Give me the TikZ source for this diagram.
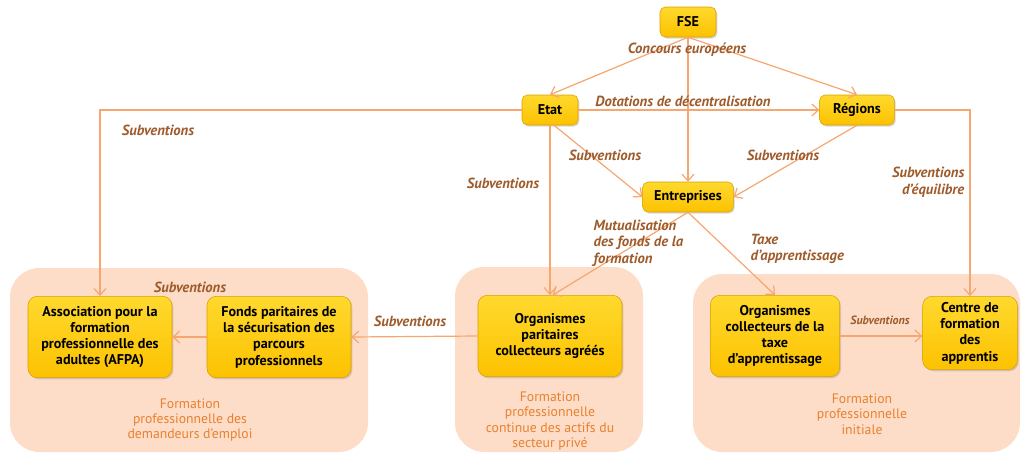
\documentclass[tikz,border=0pt]{standalone}
\usepackage{fontspec}
\setmainfont{PT Sans}
\usepackage{xcolor}
\usetikzlibrary{positioning,arrows.meta,shadows,calc}

\definecolor{goldtop}{HTML}{FFD92E}
\definecolor{goldbot}{HTML}{FCC200}
\definecolor{goldedge}{HTML}{D9A000}
\definecolor{peach}{HTML}{FDDDC8}
\definecolor{flow}{HTML}{F6A66E}
\definecolor{flowlbl}{HTML}{9E5B2B}
\definecolor{grptxt}{HTML}{E8812E}

\begin{document}
\begin{tikzpicture}[x=0.75pt, y=-0.75pt,
  box/.style={draw=goldedge, rounded corners=4pt, top color=goldtop,
              bottom color=goldbot, align=center, inner sep=2pt,
              drop shadow={opacity=0.3, shadow xshift=1pt, shadow yshift=-1.2pt},
              font=\fontsize{10.6}{12.2}\selectfont\bfseries, minimum height=22.5pt},
  bigbox/.style={box, rounded corners=7pt, minimum width=#1, minimum height=61pt},
  group/.style={fill=peach, rounded corners=22pt},
  grplabel/.style={align=center, text=grptxt, font=\fontsize{10.3}{11.5}\selectfont},
  flowlabel/.style={text=flowlbl, font=\fontsize{11}{12.5}\selectfont\bfseries\itshape},
  flowline/.style={->, draw=flow, line width=0.9pt},
  >={Straight Barb[length=5pt, width=9pt]}
]
  \useasboundingbox (0,0) rectangle (1022,457);

  % three sectors of training
  \path[group] (10,268) rectangle (368,452);
  \path[group] (455,267) rectangle (643,452);
  \path[group] (693,274) rectangle (1020,452);

  \node[grplabel] (lblDE) at (190,420)
    {Formation\\professionnelle des\\demandeurs d'emploi};
  \node[grplabel] (lblCont) at (550,421)
    {Formation\\professionnelle\\continue des actifs du\\secteur privé};
  \node[grplabel] (lblInit) at (862,414)
    {Formation\\professionnelle\\initiale};

  % funders
  \node[box, minimum width=42pt] (fse) at (688,22) {FSE};
  \node[box, minimum width=42pt] (etat) at (550,110) {Etat};
  \node[box, minimum width=56pt] (regions) at (857,110) {Régions};
  \node[box, minimum width=68pt] (entr) at (688,197) {Entreprises};

  % organisations
  \node[bigbox=108pt] (afpa) at (100,337)
    {Association pour la\\formation\\professionnelle des\\adultes (AFPA)};
  \node[bigbox=108pt] (fpspp) at (279,337)
    {Fonds paritaires de\\la sécurisation des\\parcours\\professionnels};
  \node[bigbox=108pt] (opca) at (550,336)
    {Organismes\\paritaires\\collecteurs agréés};
  \node[bigbox=97pt] (octa) at (775,336)
    {Organismes\\collecteurs de la\\taxe\\d'apprentissage};
  \node[bigbox=71pt, minimum height=55pt] (cfa) at (970,333)
    {Centre de\\formation\\des\\apprentis};

  % flows of money
  \draw[flowline] (fse.south) -- (etat.north);
  \draw[flowline] (fse.south) -- (regions.north);
  \draw[flowline] (fse.south) -- (entr.north);
  \draw[flowline] (etat.east) -- (regions.west);
  \draw[flowline] (etat.west) -| (afpa.north);
  \draw[flowline] ([xshift=3pt]etat.south) -- (entr.west);
  \draw[flowline] (etat.south) -- (opca.north);
  \draw[flowline] (regions.south) -- (entr.east);
  \draw[flowline] (regions.east) -| (cfa.north);
  \draw[flowline] (entr.south) -- ([xshift=2pt]opca.north);
  \draw[flowline] (entr.south) -- (octa.north);
  \draw[flowline] (opca.west) -- (fpspp.east);
  \draw[flowline] (fpspp.west) -- (afpa.east);
  \draw[flowline] (octa.east) -- (cfa.west |- octa.east);

  % labels of the flows
  \node[flowlabel] (lConc) at (687,50) {Concours européens};
  \node[flowlabel] (lDot) at (683,101) {Dotations de décentralisation};
  \node[flowlabel] (lSubEtat) at (158,130) {Subventions};
  \node[flowlabel] (lSubEntr) at (605,155) {Subventions};
  \node[flowlabel] (lSubOpca) at (503,183) {Subventions};
  \node[flowlabel] (lSubReg) at (783,155) {Subventions};
  \node[flowlabel, align=right, anchor=east] (lEquil) at (969,182)
    {Subventions\\d'équilibre};
  \node[flowlabel, align=left, anchor=west] (lMut) at (589,243)
    {Mutualisation\\des fonds de la\\formation};
  \node[flowlabel, align=left, anchor=west] (lTaxe) at (746,249)
    {Taxe\\d'apprentissage};
  \node[flowlabel] (lSubFp) at (410,321) {Subventions};
  \node[flowlabel] (lSubAfpa) at (190,287) {Subventions};
  \node[flowlabel, font=\fontsize{9}{10}\selectfont\bfseries\itshape]
    (lSubCfa) at (880,320) {Subventions};
\end{tikzpicture}
\end{document}
